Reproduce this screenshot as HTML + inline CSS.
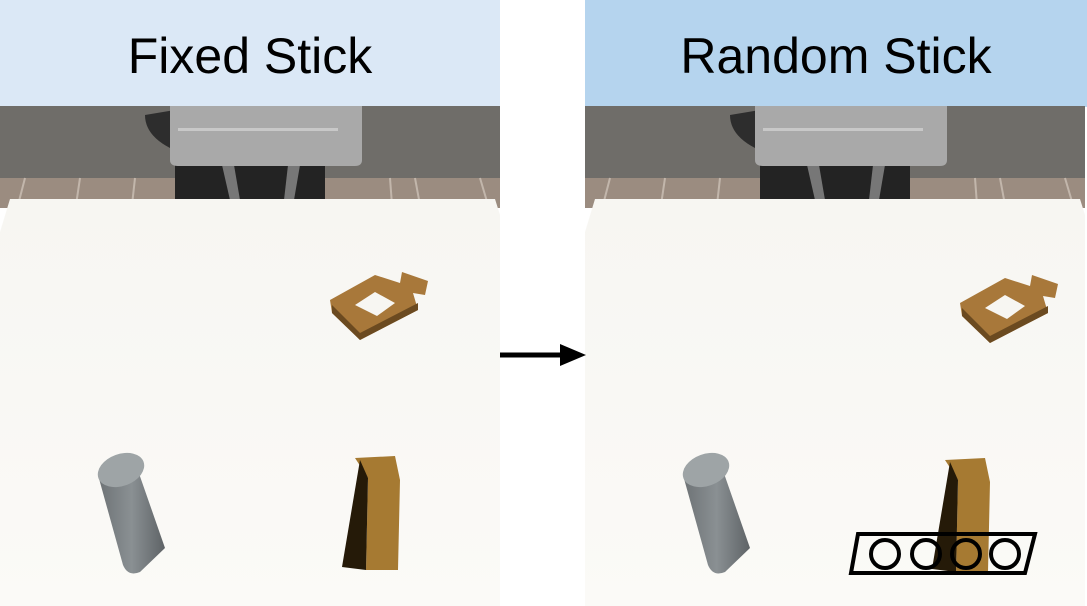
<!DOCTYPE html>
<html><head><meta charset="utf-8"><style>
html,body{margin:0;padding:0;background:#fff;}
svg{display:block}
text{font-family:"Comic Sans MS","Liberation Sans",sans-serif;}
</style></head><body>
<svg width="1087" height="606" viewBox="0 0 1087 606" xmlns="http://www.w3.org/2000/svg">
<defs>
<linearGradient id="tbl" x1="0" y1="0" x2="0" y2="1"><stop offset="0" stop-color="#f7f6f2"/><stop offset="1" stop-color="#fbfaf7"/></linearGradient>
<linearGradient id="cyl" x1="0" y1="0" x2="1" y2="0"><stop offset="0" stop-color="#6d7275"/><stop offset="0.5" stop-color="#8a9093"/><stop offset="1" stop-color="#5e6366"/></linearGradient>
<g id="bg">
  <rect x="0" y="106" width="500" height="75" fill="#6f6d69"/>
  <rect x="0" y="178" width="500" height="30" fill="#9b8c80"/>
  <g stroke="#c2b6ab" stroke-width="2"><line x1="25" y1="178" x2="18" y2="205"/><line x1="80" y1="178" x2="76" y2="205"/><line x1="135" y1="178" x2="132" y2="205"/><line x1="390" y1="178" x2="392" y2="205"/><line x1="415" y1="178" x2="420" y2="205"/><line x1="480" y1="178" x2="488" y2="205"/></g>
  <path d="M145 115 Q145 135 170 148 L175 148 L175 110 Z" fill="#2d2d2d"/>
  <rect x="175" y="160" width="150" height="42" fill="#232323"/>
  <path d="M222 165 L234 165 L240 200 L230 200 Z" fill="#777"/>
  <path d="M300 165 L288 165 L284 200 L294 200 Z" fill="#777"/>
  <path d="M170 106 L362 106 L362 160 Q362 166 355 166 L178 166 Q170 166 170 160 Z" fill="#a9a9a9"/>
  <rect x="178" y="128" width="160" height="3" fill="#c8c8c8"/>
  <path d="M10 199 L495 199 L500 215 L500 606 L0 606 L0 232 Z" fill="url(#tbl)"/>
</g>
<g id="handle">
  <path d="M330 300 L375 275 L400 283 L402 272 L428 281 L425 295 L413 293 L418 310 L360 340 L332 313 Z" fill="#a8783a"/>
  <path d="M332 305 L360 333 L418 303 L418 310 L360 340 L332 313 Z" fill="#6b4a20"/>
  <path d="M355 305 L375 292 L395 303 L377 316 Z" fill="#f7f6f2"/>
</g>
<g id="cylinder">
  <path d="M98 475 L123 565 Q128 577 140 572 L165 548 L135 462 Z" fill="url(#cyl)"/>
  <ellipse cx="121" cy="470" rx="24" ry="16" transform="rotate(-20 121 470)" fill="#9ea4a6"/>
</g>
<g id="block">
  <path d="M355 458 L395 456 L400 480 L398 570 L366 570 L368 478 Z" fill="#a67a32"/>
  <path d="M360 460 L368 478 L366 570 L342 567 Z" fill="#251a08"/>
</g>
</defs>
<rect x="0" y="0" width="500" height="107" fill="#dbe8f6"/>
<rect x="585" y="0" width="502" height="107" fill="#b5d4ee"/>
<text x="250" y="73" font-size="50" text-anchor="middle" fill="#000">Fixed Stick</text>
<text x="836" y="73" font-size="50" text-anchor="middle" fill="#000">Random Stick</text>
<use href="#bg"/>
<use href="#handle"/>
<use href="#cylinder"/>
<use href="#block"/>
<g transform="translate(585,0)"><use href="#bg"/><use href="#cylinder"/></g>
<use href="#handle" transform="translate(630,3)"/>
<use href="#block" transform="translate(590,2)"/>
<path d="M858 534 L1035 534 L1025 573 L851 573 Z" fill="none" stroke="#000" stroke-width="4"/>
<g fill="none" stroke="#000" stroke-width="4">
<circle cx="885" cy="554" r="14"/><circle cx="926" cy="554" r="14"/><circle cx="966" cy="554" r="14"/><circle cx="1005" cy="554" r="14"/>
</g>
<line x1="500" y1="355" x2="568" y2="355" stroke="#000" stroke-width="5"/>
<path d="M586 355 L560 344 L560 366 Z" fill="#000"/>
</svg>
</body></html>
